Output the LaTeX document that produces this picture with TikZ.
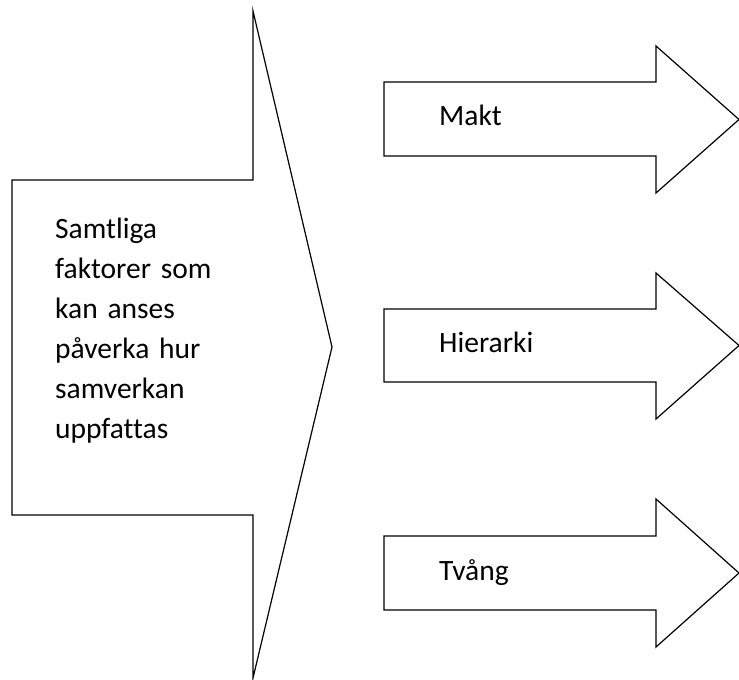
\documentclass[tikz,border=0pt]{standalone}
\usepackage{fontspec}
\setmainfont[Ligatures=NoCommon, WordSpace=0.7]{Carlito}
\usetikzlibrary{positioning}

\begin{document}
\begin{tikzpicture}[
      x=1pt, y=-1pt, % <-- ONE PIXEL OF THE LAYOUT PER POINT
      outline/.style={draw, line width=1.2pt, line join=miter},
      arrowtext/.style={anchor=base west, inner sep=0pt, font=\fontsize{29.5}{40}\selectfont},
      bigtext/.style={arrowtext, text width=6.5cm, align=left}
    ]

    \useasboundingbox (0,0) rectangle (739,680);

    % Big arrow on the left
    \draw[outline] (12,180) -- (253,180) -- (253,11) -- (332,347) -- (253,678) -- (253,515) -- (12,515) -- cycle;
    \node[bigtext] (factors) at (55,238) {Samtliga\\faktorer som\\kan anses\\påverka hur\\samverkan\\uppfattas};

    % Small arrows on the right
    \draw[outline] (384,82) -- (656,82) -- (656,46) -- (739,119.5) -- (656,193) -- (656,156) -- (384,156) -- cycle;
    \node[arrowtext] (makt) at (439,125) {Makt};

    \draw[outline] (384,309) -- (656,309) -- (656,273) -- (739,345.5) -- (656,419) -- (656,382) -- (384,382) -- cycle;
    \node[arrowtext] (hierarki) at (439,352) {Hierarki};

    \draw[outline] (384,536) -- (656,536) -- (656,499) -- (739,573) -- (656,647) -- (656,610) -- (384,610) -- cycle;
    \node[arrowtext] (tvang) at (439,580) {Tvång};

  \end{tikzpicture}
\end{document}
